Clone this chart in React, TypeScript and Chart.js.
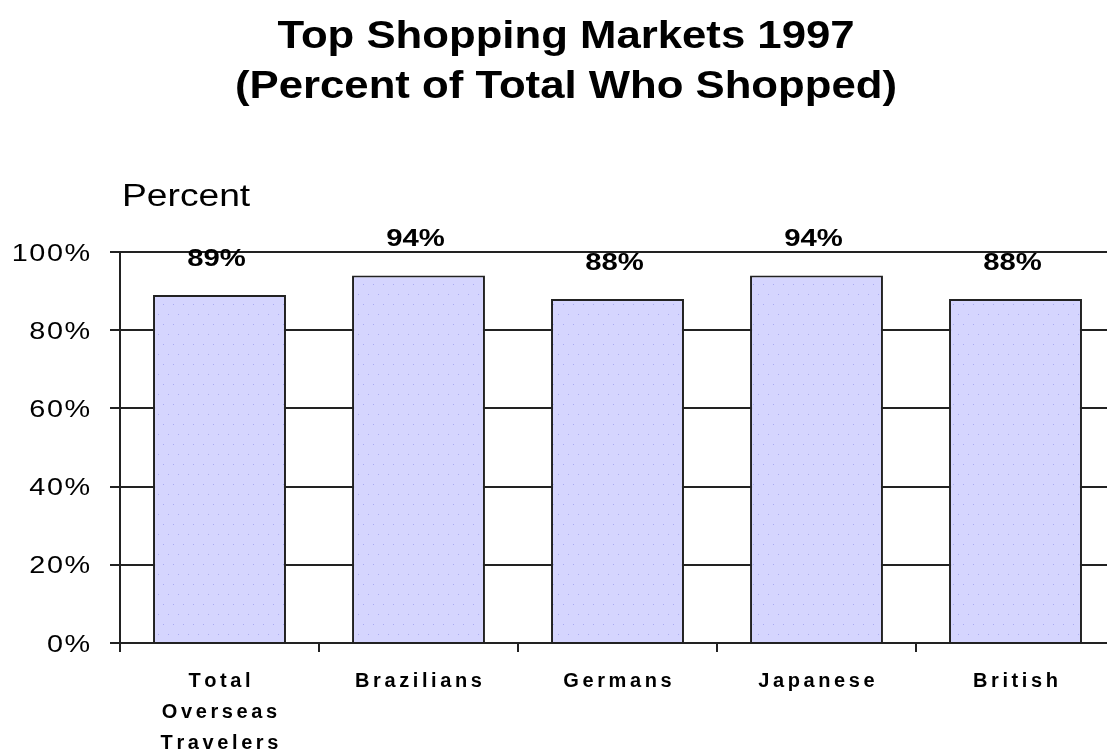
import React, { useEffect, useRef } from "react";
import { Chart, registerables } from "chart.js";

Chart.register(...registerables);

const titleLines = ["Top Shopping Markets 1997", "(Percent of Total Who Shopped)"];
const axisTitle = "Percent";
const categories: string[][] = [
  ["Total", "Overseas", "Travelers"],
  ["Brazilians"],
  ["Germans"],
  ["Japanese"],
  ["British"],
];
const values = [89, 94, 88, 94, 88];
const yTickValues = [0, 20, 40, 60, 80, 100];
const yTickLabels = ["0%", "20%", "40%", "60%", "80%", "100%"];

const FONT = "'Liberation Sans', Arial, Helvetica, sans-serif";

function drawText(
  ctx: CanvasRenderingContext2D,
  text: string,
  x: number,
  y: number,
  align: "left" | "center" | "right",
  spacing: number,
  sx: number
) {
  const chars = Array.from(text);
  if (spacing === 0) {
    const w = ctx.measureText(text).width * sx;
    const start = align === "center" ? x - w / 2 : align === "right" ? x - w : x;
    ctx.save();
    ctx.translate(start, y);
    ctx.scale(sx, 1);
    ctx.textAlign = "left";
    ctx.fillText(text, 0, 0);
    ctx.restore();
    return;
  }
  const widths = chars.map((c) => ctx.measureText(c).width * sx);
  const total = widths.reduce((a, b) => a + b, 0) + spacing * (chars.length - 1);
  let pos = align === "center" ? x - total / 2 : align === "right" ? x - total : x;
  chars.forEach((c, i) => {
    ctx.save();
    ctx.translate(pos, y);
    ctx.scale(sx, 1);
    ctx.textAlign = "left";
    ctx.fillText(c, 0, 0);
    ctx.restore();
    pos += widths[i] + spacing;
  });
}

function makePattern(): CanvasPattern | string {
  const c = document.createElement("canvas");
  c.width = 40;
  c.height = 20;
  const g = c.getContext("2d");
  if (!g) return "#d5d5fe";
  g.fillStyle = "#d5d5fe";
  g.fillRect(0, 0, 40, 20);
  g.fillStyle = "#a9a9f2";
  const dots = [
    [3, 4], [13, 4], [23, 4], [33, 4],
    [8, 14], [18, 14], [28, 14], [38, 14],
  ];
  dots.forEach(([x, y]) => g.fillRect(x, y, 1, 1));
  const p = g.createPattern(c, "repeat");
  return p || "#d5d5fe";
}

const textPlugin = {
  id: "textPlugin",
  afterDraw(chart: any) {
    const ctx: CanvasRenderingContext2D = chart.ctx;
    const xs = chart.scales.x;
    const ys = chart.scales.y;
    ctx.save();
    ctx.fillStyle = "#000";
    ctx.textBaseline = "alphabetic";

    // Title
    ctx.font = `bold 38px ${FONT}`;
    drawText(ctx, titleLines[0], 566, 48, "center", 0, 1.15);
    drawText(ctx, titleLines[1], 566, 98, "center", 0, 1.15);

    // Axis title
    ctx.font = `31px ${FONT}`;
    drawText(ctx, axisTitle, 122, 206, "left", 0, 1.2);

    // Y tick labels
    ctx.font = `24px ${FONT}`;
    yTickValues.forEach((v, i) => {
      const y = ys.getPixelForValue(v);
      drawText(ctx, yTickLabels[i], 90, y + 8.6, "right", 1.5, 1.2);
    });

    // Category labels
    ctx.font = `bold 20px ${FONT}`;
    categories.forEach((lines, i) => {
      const x = xs.getPixelForValue(i);
      lines.forEach((line, j) => {
        drawText(ctx, line, x, 687 + j * 31, "center", 3.6, 1);
      });
    });

    // Data labels
    ctx.font = `bold 24px ${FONT}`;
    const meta = chart.getDatasetMeta(0);
    meta.data.forEach((bar: any, i: number) => {
      const cy = bar.y - 38;
      drawText(ctx, `${values[i]}%`, bar.x - 3, cy + 8.6, "center", 0, 1.22);
    });
    ctx.restore();
  },
};

export default function App() {
  const ref = useRef<HTMLCanvasElement | null>(null);
  useEffect(() => {
    if (!ref.current) return;
    const chart = new Chart(ref.current, {
      type: "bar",
      data: {
        labels: categories.map((c) => c.join(" ")),
        datasets: [
          {
            data: values,
            backgroundColor: makePattern() as any,
            borderColor: "#222",
            borderWidth: 2,
            barPercentage: 0.668,
            categoryPercentage: 1,
          },
        ],
      },
      options: {
        responsive: false,
        animation: false,
        devicePixelRatio: 1,
        layout: { padding: { top: 252, left: 0, right: 0, bottom: 0 } },
        plugins: {
          legend: { display: false },
          tooltip: { enabled: false },
          title: { display: false },
        },
        scales: {
          x: {
            ticks: { display: false },
            grid: {
              display: true,
              offset: true,
              drawOnChartArea: false,
              drawTicks: true,
              tickLength: 9,
              color: "#222",
              lineWidth: 2,
            },
            border: { display: true, color: "#222", width: 2 },
            afterFit: (s: any) => {
              s.height = 110;
            },
          },
          y: {
            min: 0,
            max: 100,
            ticks: { display: false, stepSize: 20 },
            grid: {
              display: true,
              drawTicks: true,
              tickLength: 10,
              color: "#222",
              lineWidth: 2,
            },
            border: { display: true, color: "#222", width: 2 },
            afterFit: (s: any) => {
              s.width = 120;
            },
          },
        },
      },
      plugins: [textPlugin],
    });
    return () => chart.destroy();
  }, []);
  return (
    <div
      style={{
        position: "absolute",
        left: 0,
        top: 0,
        width: 1107,
        height: 753,
        overflow: "hidden",
        background: "#fff",
      }}
    >
      <canvas ref={ref} width={1115} height={753} style={{ display: "block" }} />
    </div>
  );
}
